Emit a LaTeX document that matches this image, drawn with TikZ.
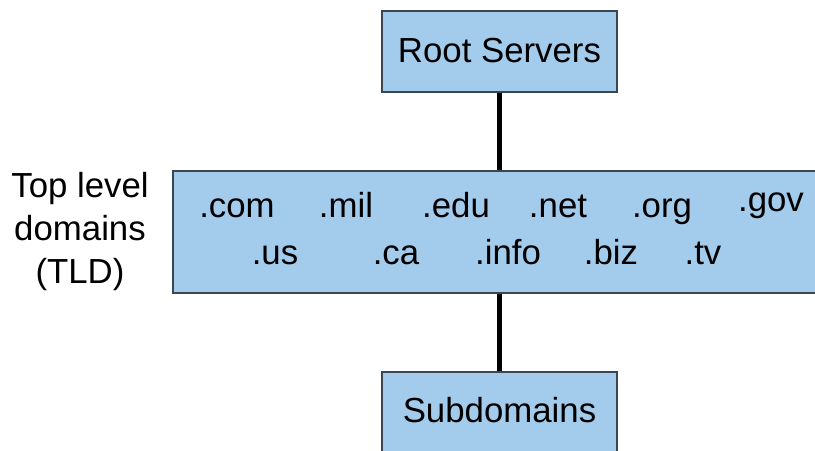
\documentclass[tikz,border=0pt]{standalone}
\usepackage{fontspec}
\setsansfont{Liberation Sans}
\usetikzlibrary{positioning}
\definecolor{boxblue}{RGB}{163,203,236}
\definecolor{boxedge}{RGB}{58,70,82}

\begin{document}
\begin{tikzpicture}[
  font=\sffamily\fontsize{19.8}{24.2}\selectfont,
  level/.style={draw=boxedge, fill=boxblue, line width=1.1pt, inner sep=0pt},
  link/.style={draw=black, line width=2.3pt},
  dom/.style={anchor=base, inner sep=0pt}
]
\useasboundingbox (0,0) rectangle (16.3,9);
\node[level, minimum width=4.7cm, text height=1.04cm, text depth=0.58cm, anchor=base]
  (root) at (9.99,7.74) {Root Servers};
\node[level, minimum width=13.4cm, minimum height=2.44cm] (tld) at (10.16,4.36) {};
\node[level, minimum width=4.7cm, text height=1.0cm, text depth=0.96cm, anchor=base]
  (sub) at (9.99,0.56) {Subdomains};

\foreach \name/\x in {com/4.74, mil/6.92, edu/9.12, net/11.16, org/13.24}
  \node[dom] (\name) at (\x,4.64) {.\name};
\node[dom] (gov) at (15.42,4.76) {.gov};
\foreach \name/\x in {us/5.50, ca/7.92, info/10.16, biz/12.22, tv/14.06}
  \node[dom] (\name) at (\x,3.70) {.\name};

\node[align=center, anchor=base, inner sep=0pt] (tldlabel) at (1.6,3.34)
  {Top level\\domains\\(TLD)};

\draw[link] (root.south) -- (root.south |- tld.north);
\draw[link] (tld.south -| sub.north) -- (sub.north);
\end{tikzpicture}
\end{document}
